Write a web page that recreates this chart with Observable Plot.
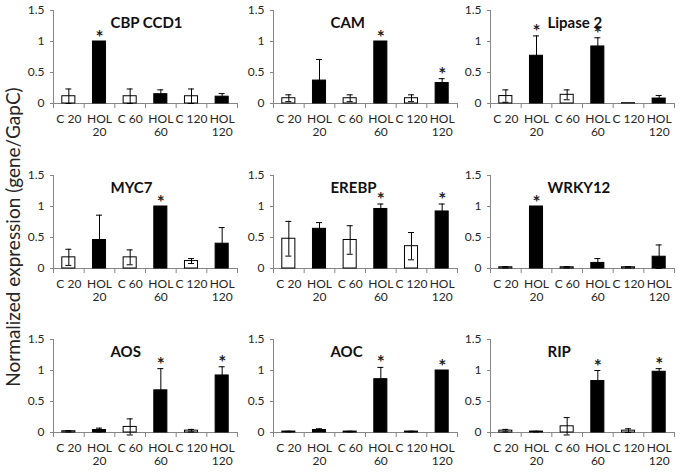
<!DOCTYPE html>
<html><head><meta charset="utf-8">
<script src="https://cdn.jsdelivr.net/npm/d3@7"></script>
<script src="https://cdn.jsdelivr.net/npm/@observablehq/plot@0.6"></script>
<style>
body{margin:0;background:#fff;}
#wrap{position:relative;width:683px;height:475px;overflow:hidden;font-family:Lato,sans-serif;background:#fff;}
.panel{position:absolute;}
#ytitle{position:absolute;left:12px;top:237px;transform:translate(-50%,-50%) rotate(-90deg);white-space:nowrap;font-size:19px;color:#262626;}
</style></head><body>
<div id="wrap"><div id="ytitle">Normalized expression (gene/GapC)</div></div>
<script>
// ---- data ----
const categories = ["C 20","HOL 20","C 60","HOL 60","C 120","HOL 120"];
const isControl = [true,false,true,false,true,false];
const yTicks = [0,0.5,1,1.5];
const genes = ["CBP CCD1","CAM","Lipase 2","MYC7","EREBP","WRKY12","AOS","AOC","RIP"];

const cbpMean = [0.117,1.00,0.117,0.15,0.117,0.11];
const cbpErr  = [0.117,0,0.117,0.07,0.117,0.05];
const cbpSig  = [0,1,0,0,0,0];

const camMean = [0.085,0.37,0.085,1.00,0.085,0.33];
const camErr  = [0.055,0.34,0.055,0,0.055,0.07];
const camSig  = [0,0,0,1,0,1];

const lipMean = [0.12,0.77,0.14,0.92,0.005,0.08];
const lipErr  = [0.10,0.32,0.08,0.14,0,0.05];
const lipSig  = [0,1,0,1,0,0];

const mycMean = [0.18,0.46,0.18,1.00,0.12,0.40];
const mycErr  = [0.13,0.40,0.12,0,0.04,0.26];
const mycSig  = [0,0,0,1,0,0];

const erebpMean = [0.48,0.64,0.46,0.96,0.36,0.92];
const erebpErr  = [0.28,0.10,0.23,0.08,0.22,0.12];
const erebpSig  = [0,0,0,1,0,1];

const wrkyMean = [0.02,1.00,0.02,0.09,0.02,0.19];
const wrkyErr  = [0.01,0,0.01,0.07,0.01,0.19];
const wrkySig  = [0,1,0,0,0,0];

const aosMean = [0.02,0.04,0.09,0.68,0.03,0.92];
const aosErr  = [0.01,0.03,0.13,0.35,0.02,0.14];
const aosSig  = [0,0,0,1,0,1];

const aocMean = [0.015,0.04,0.015,0.86,0.015,1.00];
const aocErr  = [0.005,0.02,0.005,0.19,0.005,0];
const aocSig  = [0,0,0,1,0,1];

const ripMean = [0.03,0.015,0.10,0.83,0.03,0.98];
const ripErr  = [0.02,0.005,0.14,0.17,0.03,0.05];
const ripSig  = [0,0,0,1,0,1];

const means = [cbpMean,camMean,lipMean,mycMean,erebpMean,wrkyMean,aosMean,aocMean,ripMean];
const errs  = [cbpErr,camErr,lipErr,mycErr,erebpErr,wrkyErr,aosErr,aocErr,ripErr];
const sigs  = [cbpSig,camSig,lipSig,mycSig,erebpSig,wrkySig,aosSig,aocSig,ripSig];

// ---- layout ----
const AXIS = "#868686";
const colX = [53, 273, 490];      // y-axis line position of each column
const rowTop = [10, 175, 339];    // y=1.5 position of each row
const ML = 45, MT = 10, MR = 5, MB = 45;
const innerW = 184, innerH = 93;
const W = ML + innerW + MR, H = MT + innerH + MB;

const wrap = document.getElementById("wrap");
genes.forEach((gene, k) => {
  const r = Math.floor(k / 3), c = k % 3;
  const rows = categories.map((cat, i) => ({i, cat, v: means[k][i], e: errs[k][i], s: sigs[k][i], ctrl: isControl[i]}));
  const withErr = rows.filter(d => d.e > 0);
  const chart = Plot.plot({
    width: W, height: H,
    marginLeft: ML, marginTop: MT, marginRight: MR, marginBottom: MB,
    style: {fontFamily: "Lato, sans-serif", color: "#262626", background: "transparent", overflow: "visible"},
    x: {domain: [0, categories.length], axis: null},
    y: {domain: [0, 1.5], axis: null},
    marks: [
      Plot.ruleX([0], {stroke: AXIS}),
      Plot.axisY({ticks: yTicks, label: null, tickSize: 3, tickPadding: 6, fontSize: 12, stroke: AXIS, tickFormat: d => String(d)}),
      Plot.axisX({ticks: d3.range(categories.length + 1), label: null, tickFormat: () => "", tickSize: 5, stroke: AXIS}),
      Plot.axisX({ticks: d3.range(categories.length).map(i => i + 0.5), label: null, tickSize: 0, tickPadding: 10, fontSize: 12, lineHeight: 1.12,
        tickFormat: t => categories[Math.floor(t)].replace("HOL ", "HOL\n")}),
      Plot.ruleY([0], {stroke: AXIS}),
      Plot.rectY(rows.filter(d => d.ctrl), {x1: "i", x2: d => d.i + 1, y: "v", insetLeft: 8.8, insetRight: 8.8, fill: "#fff", stroke: "#000", strokeWidth: 1}),
      Plot.rectY(rows.filter(d => !d.ctrl), {x1: "i", x2: d => d.i + 1, y: "v", insetLeft: 8.8, insetRight: 8.8, fill: "#000", stroke: "#000", strokeWidth: 1}),
      Plot.ruleX(withErr, {x: d => d.i + 0.5, y1: d => d.v - d.e, y2: d => d.v + d.e, stroke: "#000", strokeWidth: 1}),
      Plot.ruleY(withErr, {x1: d => d.i + 0.5, x2: d => d.i + 0.5, y: d => d.v + d.e, insetLeft: -3, insetRight: -3, stroke: "#000", strokeWidth: 1}),
      Plot.ruleY(withErr, {x1: d => d.i + 0.5, x2: d => d.i + 0.5, y: d => d.v - d.e, insetLeft: -3, insetRight: -3, stroke: "#000", strokeWidth: 1}),
      Plot.text(rows.filter(d => d.s), {x: d => d.i + 0.5, y: d => d.v + d.e, text: () => "*", dy: -4, fontSize: 19, fontWeight: "bold", fill: "#222"}),
      Plot.text([gene], {frameAnchor: "top-left", dx: 57, dy: 13, textAnchor: "start", lineAnchor: "middle", fontWeight: "bold", fontSize: 15, fill: "#111"})
    ]
  });
  const div = document.createElement("div");
  div.className = "panel";
  div.style.left = (colX[c] - ML) + "px";
  div.style.top = (rowTop[r] - MT) + "px";
  div.appendChild(chart);
  wrap.appendChild(div);
});
</script>
</body></html>
